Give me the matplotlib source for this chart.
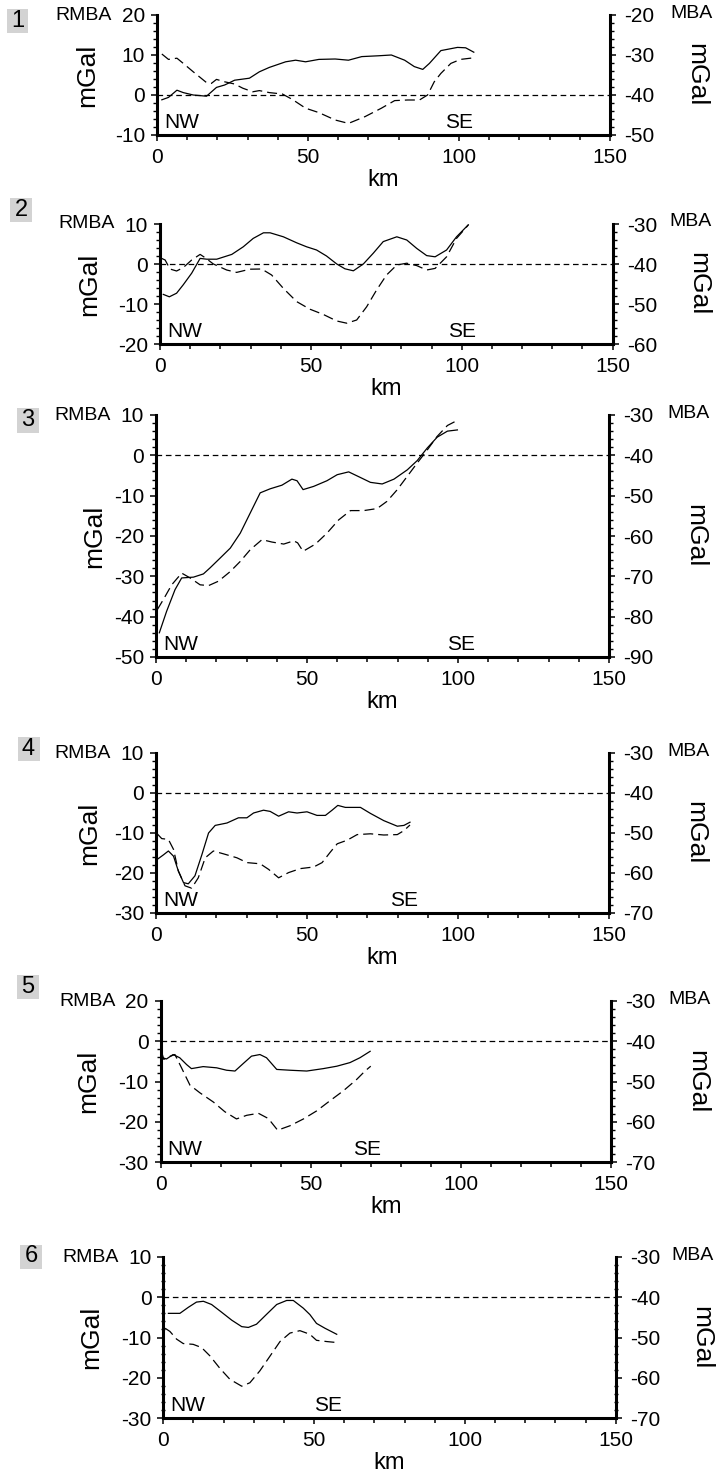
import matplotlib
matplotlib.use("Agg")
import matplotlib.pyplot as plt
from matplotlib.patches import Rectangle
from matplotlib.ticker import MultipleLocator, FixedLocator

plt.rcParams['font.family'] = ['Liberation Sans', 'DejaVu Sans']
plt.rcParams['axes.unicode_minus'] = False

W, H = 718, 1473

# profile 1
km1_r = [1.6, 3.8, 6.6, 8.7, 12, 16.4, 19.7, 22.4, 25.7, 30.6, 33.9, 37.2, 42.6, 45.9, 49.2,
         53.6, 59, 63.4, 67.8, 73.2, 77.6, 82, 85.2, 88, 90.2, 94, 99.5, 102.2, 104.9]
rmba1 = [-1.2, -0.6, 1.2, 0.6, 0, -0.3, 1.9, 2.5, 3.7, 4.2, 5.8, 6.9, 8.3, 8.7, 8.3,
         8.9, 9.0, 8.7, 9.6, 9.8, 10.0, 8.7, 7.1, 6.4, 7.9, 11.1, 11.9, 11.8, 10.7]
km1_m = [1.6, 3.8, 6.6, 8.7, 12, 16.4, 18, 19.7, 22.4, 25.7, 28.4, 31.7, 33.9, 37.2, 41.5, 44.8,
         49.2, 53.6, 59, 63.4, 68.9, 74.3, 78.7, 83, 86.9, 89.6, 91.8, 94, 97.3, 100.5, 104.9]
mba1 = [-29.75, -31.1, -30.8, -32.1, -34.2, -36.9, -37.1, -36.1, -36.7, -37.25, -38.3, -39.2,
        -38.9, -39.4, -39.75, -41.1, -43.3, -44.4, -46.25, -47.1, -45.4, -43.3, -41.4, -41.25,
        -41.25, -40, -36.7, -34.6, -32.1, -31.1, -30.7]

# profile 2
km2_r = [1.1, 3.1, 5.5, 7.7, 10.5, 13.3, 15.5, 18.8, 23.8, 27.6, 30.9, 34.3, 36.5, 40.9, 45.3, 48.6,
         51.9, 55.2, 58.6, 61.3, 64.1, 67.4, 70.7, 74, 78.5, 81.8, 85.1, 88.4, 91.2, 95, 98.3, 102.2]
rmba2 = [-7.6, -8.2, -7.3, -5.2, -2.3, 1.4, 1.2, 1.2, 2.4, 4.3, 6.4, 7.8, 7.8, 6.8, 5.3, 4.3,
         3.5, 2.0, 0, -1.2, -1.7, 0, 2.7, 5.6, 6.8, 6.0, 3.9, 2.1, 1.8, 3.5, 6.8, 9.8]
km2_m = [0.55, 1.7, 3.3, 5.5, 7.7, 10.5, 13.3, 14.9, 17.7, 22.1, 25.4, 29.8, 33.7, 37, 40.9, 45.3,
         49.7, 54.1, 58.6, 61.9, 65.2, 68.5, 71.8, 75.1, 78.5, 81.8, 85.1, 88.4, 91.2, 95, 98.3, 102.2]
mba2 = [-38.6, -39.0, -41.25, -41.75, -40.9, -39.0, -37.6, -38.4, -40, -41.5, -42.1, -41.3,
        -41.25, -42.75, -46.1, -49.4, -51.3, -52.6, -54.25, -54.8, -54, -50.7, -46.5, -42.75,
        -40.25, -39.8, -40.4, -41.5, -41.1, -38.2, -33.6, -30.25]

# profile 3
km3_r = [1.1, 3.5, 6.3, 8.5, 12.4, 15.7, 17.9, 21.2, 24.6, 27.9, 31.2, 34.5, 37.8, 41.7, 45, 46.7,
         48.7, 52.2, 56.6, 60, 63.8, 67.7, 71, 74.9, 78.8, 83.2, 86.5, 89.8, 93.1, 96.5, 99.8]
rmba3 = [-44, -38.7, -33.3, -30.4, -30.2, -29.4, -27.9, -25.5, -23, -19.3, -14.3, -9.3, -8.3, -7.4,
         -5.9, -6.3, -8.5, -7.7, -6.3, -4.8, -4.1, -5.5, -6.7, -7.1, -5.9, -3.6, -1.3, 1.8, 4.5, 6.0, 6.3]
km3_m = [0.4, 2.4, 5.2, 8.5, 11.3, 14.6, 17.4, 20.7, 24.6, 27.9, 31.2, 35.1, 38.4, 42.3, 45.6, 46.9,
         48.7, 52.8, 56.6, 60.5, 64.4, 68.8, 73.2, 76.5, 79.9, 83.2, 86.5, 89.3, 93.1, 96.5, 99.6]
mba3 = [-78.3, -75.8, -72.1, -69.2, -70.4, -72.1, -72.3, -71.2, -68.8, -66.3, -63.4, -60.9, -61.5,
        -62, -61.2, -61.7, -63.8, -62, -59.3, -56, -53.7, -53.7, -53.2, -51.4, -48.5, -45.2, -41.9,
        -39.2, -35.3, -32.6, -31.4]

# profile 4
km4_r = [0.4, 2.4, 4.1, 5.8, 7.4, 9.1, 10.7, 12.9, 15.2, 17.4, 19.6, 23.5, 27.3, 30.1, 32.3, 35.6,
         37.8, 40.6, 43.9, 46.7, 50, 53.3, 56.1, 58.3, 60.2, 62.7, 67.7, 71, 75.4, 79.9, 82.1, 84.1]
rmba4 = [-16.6, -15.5, -14.5, -15.8, -19.5, -22.4, -22.7, -20.7, -15.4, -10, -8.1, -7.5, -6.2, -6.2,
         -5, -4.3, -4.6, -5.8, -4.7, -5, -4.7, -5.6, -5.6, -4.3, -3.1, -3.6, -3.6, -5.1, -6.9, -8.3,
         -8.1, -7.3]
km4_m = [0.4, 1.9, 4.1, 5.8, 7.4, 9.6, 11.8, 14, 16.3, 19, 22.3, 26.8, 30.1, 34.5, 37.3, 40.6,
         43.9, 47.8, 52.2, 55, 57.7, 60, 63.3, 66.6, 71, 75.4, 79.9, 82.1, 84.1]
mba4 = [-50.2, -51.4, -51.6, -54.1, -59.5, -63.2, -63.8, -61.2, -56.2, -54.5, -55.2, -56.2, -57.4,
        -57.7, -59.1, -61.2, -59.9, -58.9, -58.5, -57.4, -54.8, -52.7, -51.8, -50.4, -50.2, -50.5,
        -50.4, -49.4, -48]

# profile 5
km5_r = [0.7, 2, 4.2, 6.4, 8.7, 10.3, 14.2, 18.7, 22, 24.8, 27.6, 30.3, 33.1, 35.3, 38.7, 43.1,
         48.7, 54.2, 58.7, 63.1, 66.4, 69.8]
rmba5 = [-4.1, -4.4, -3.3, -4.1, -5.8, -6.8, -6.3, -6.6, -7.2, -7.4, -5.5, -3.7, -3.3, -4.1, -7,
         -7.2, -7.4, -6.8, -6.2, -5.3, -4.1, -2.5]
km5_m = [0.3, 1.1, 2.6, 4.8, 7, 9.8, 13.1, 17.6, 21.4, 25.3, 28.7, 32.6, 35.9, 39, 43.1, 47.6,
         52, 56.4, 60.9, 65.3, 68.1, 70]
mba5 = [-42.5, -44.5, -43.9, -43.3, -46.6, -50.9, -52.8, -55.1, -57.5, -59.3, -58.4, -57.9, -59.2,
        -62.1, -61, -59.3, -57.3, -54.8, -52.3, -49.5, -47.4, -46.2]

# profile 6
km6_r = [1.7, 5.5, 8.3, 11, 13.3, 16, 19.3, 22.7, 26, 28.2, 30.9, 34.3, 37.6, 40.9, 43.1, 46.4,
         48.6, 50.8, 53.6, 57.5]
rmba6 = [-4, -4, -2.5, -1.2, -1, -1.8, -3.7, -5.7, -7.3, -7.5, -6.7, -4.2, -1.8, -0.8, -0.8, -2.7,
         -4.3, -6.5, -7.7, -9.2]
km6_m = [0.6, 2.2, 4.4, 6.6, 9.9, 12.7, 15.5, 18.8, 22.1, 26, 28.7, 32, 35.4, 38.7, 42, 45.3,
         48.6, 50.8, 54.1, 57.5]
mba6 = [-47.7, -48.5, -50.4, -51.5, -51.7, -52.5, -54.6, -57.7, -60.4, -62.1, -61.25, -58.3,
        -54.6, -51, -48.9, -48.3, -49.2, -50.7, -51, -51.25]

# axis ranges and tick labels
rmba_lim = [(-10, 20), (-20, 10), (-50, 10), (-30, 10), (-30, 10), (-30, 10)]
rmba_top_label = ['20', '10', '10', '10', '20', '10']
mba_offset = 40
se_km = [95.4, 95.4, 96.4, 77.5, 64, 50]

# panel boxes in pixels (left, top, right, bottom) and number box centres
boxes = [(157, 15, 610, 135), (160, 224, 612.5, 344), (156, 415, 609, 657),
         (156, 753, 609, 913), (160.5, 1001, 611, 1162), (163.3, 1257, 615.7, 1418)]
num_pos = [(17.5, 21), (21, 210), (27.5, 420.5), (28.5, 749), (27.5, 987), (31, 1256.5)]
mgal_left = [70, 71, 62, 67, 72, 72]
mba_x = [670, 669, 667, 667, 668, 671]

profiles = [(km1_r, rmba1, km1_m, mba1), (km2_r, rmba2, km2_m, mba2),
            (km3_r, rmba3, km3_m, mba3), (km4_r, rmba4, km4_m, mba4),
            (km5_r, rmba5, km5_m, mba5), (km6_r, rmba6, km6_m, mba6)]

fig = plt.figure(figsize=(W / 100, H / 100), dpi=100)


def fx(x):
    return x / W


def fy(y):
    return 1 - y / H


FS = 15
for i, (kr, r, km, m) in enumerate(profiles):
    x0, y0, x1, y1 = boxes[i]
    lo, hi = rmba_lim[i]
    ax = fig.add_axes([fx(x0), fy(y1), (x1 - x0) / W, (y1 - y0) / H])
    ax2 = ax.twinx()

    ax.plot(kr, r, color='k', lw=0.9)
    ax2.plot(km, m, color='k', lw=0.9, dashes=(8, 4))
    ax.axhline(0, color='k', lw=0.9, dashes=(4.5, 3))

    ax.set_xlim(0, 150)
    ax.set_ylim(lo, hi)
    ax2.set_ylim(lo - mba_offset, hi - mba_offset)

    ax.xaxis.set_major_locator(MultipleLocator(50))
    ax.xaxis.set_minor_locator(MultipleLocator(10))
    yt = list(range(lo, hi + 1, 10))
    ax.yaxis.set_major_locator(FixedLocator(yt))
    ax.set_yticklabels([str(v) for v in yt[:-1]] + [rmba_top_label[i]])
    ax.yaxis.set_minor_locator(MultipleLocator(2))
    ax2.yaxis.set_major_locator(MultipleLocator(10))
    ax2.yaxis.set_minor_locator(MultipleLocator(2))

    for s in ['top', 'right']:
        ax.spines[s].set_visible(False)
    for s in ['top', 'left', 'bottom']:
        ax2.spines[s].set_visible(False)
    for s in ['left', 'bottom']:
        ax.spines[s].set_linewidth(2.2)
    ax2.spines['right'].set_linewidth(2.2)

    mdir = 'inout' if i == 5 else 'out'
    ax.tick_params(axis='x', which='major', direction='out', length=4.5, width=1.1,
                   labelsize=FS, pad=5)
    ax.tick_params(axis='x', which='minor', direction='out', length=3.5, width=1.1)
    ax.tick_params(axis='y', which='major', direction='out', length=4.5, width=1.1,
                   labelsize=FS, pad=4)
    ax.tick_params(axis='y', which='minor', direction=mdir, length=3, width=1.0)
    ax2.tick_params(axis='y', which='major', direction='out', length=4.5, width=1.1,
                    labelsize=FS, pad=6)
    ax2.tick_params(axis='y', which='minor', direction=mdir, length=3, width=1.0)

    # labels around the panel
    fig.text(fx(x0 - 45), fy(y0), 'RMBA', ha='right', va='center', fontsize=14)
    fig.text(fx(mba_x[i]), fy(y0 - 2), 'MBA', ha='left', va='center', fontsize=14)
    fig.text(fx(x0 - mgal_left[i]), fy((y0 + y1) / 2), 'mGal', rotation=90,
             ha='center', va='center', fontsize=19)
    fig.text(fx(x1 + 86), fy((y0 + y1) / 2), 'mGal', rotation=-90,
             ha='center', va='center', fontsize=19)
    fig.text(fx((x0 + x1) / 2), fy(y1 + 45), 'km', ha='center', va='center', fontsize=17)

    ax.annotate('NW', xy=(0, 0), xycoords='axes fraction', xytext=(5, 5),
                textcoords='offset points', ha='left', va='baseline', fontsize=FS)
    ax.annotate('SE', xy=(se_km[i], 0), xycoords=('data', 'axes fraction'), xytext=(0, 5),
                textcoords='offset points', ha='left', va='baseline', fontsize=FS)

    cx, cy = num_pos[i]
    fig.patches.append(Rectangle((fx(cx - 11), fy(cy + 12)), 22 / W, 24 / H,
                                 transform=fig.transFigure, facecolor='#d3d3d3',
                                 edgecolor='none'))
    fig.text(fx(cx), fy(cy), str(i + 1), ha='center', va='center', fontsize=17)

fig.savefig('out.png', dpi=100)
